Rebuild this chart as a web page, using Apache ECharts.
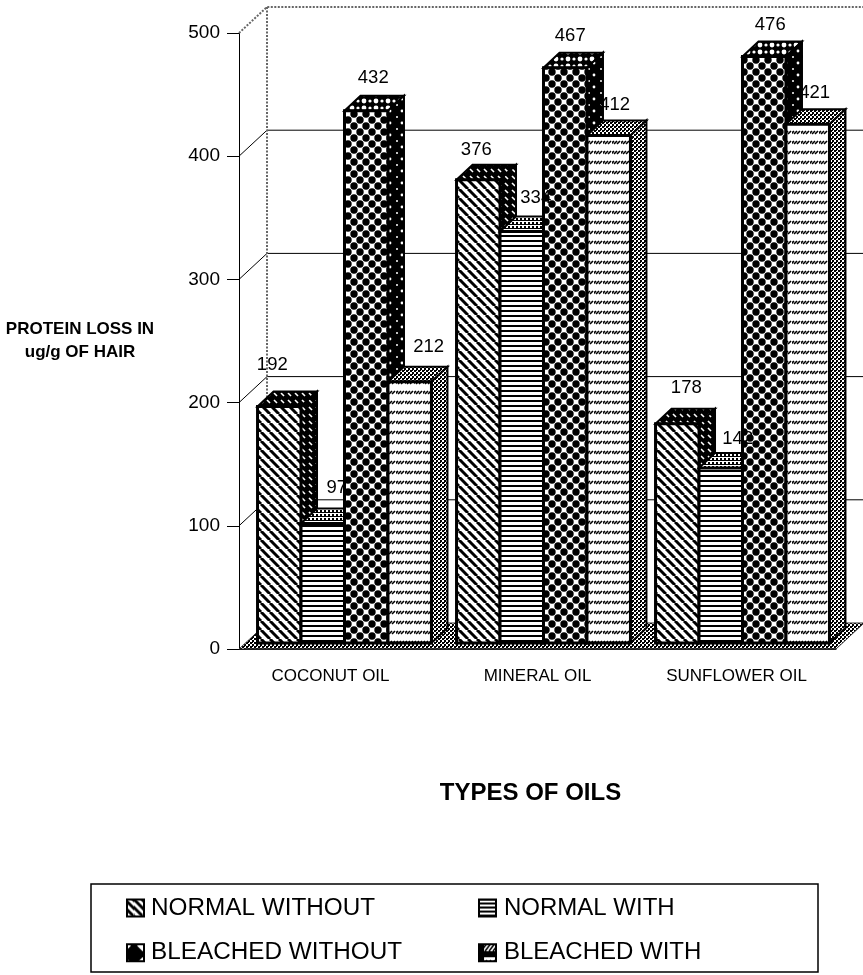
<!DOCTYPE html>
<html><head><meta charset="utf-8">
<style>html,body{margin:0;padding:0;background:#fff}#c{width:863px;height:975px}</style>
<script src="https://cdn.jsdelivr.net/npm/echarts@6/dist/echarts.min.js"></script>
</head><body><div id="c"></div>
<script>
const categories = ['COCONUT OIL','MINERAL OIL','SUNFLOWER OIL'];
const normalWithout = [192,376,178];
const normalWith = [97,334,142];
const bleachedWithout = [432,467,476];
const bleachedWith = [212,412,421];
const seriesNames = ['NORMAL WITHOUT','NORMAL WITH','BLEACHED WITHOUT','BLEACHED WITH'];
const yTicks = [0,100,200,300,400,500];

// hand-placed label nudges of the reference (px from bar centre / bar top)
const labelNudgeX = [[-7,-2,9],[14,14,17],[7,5,6],[19,6,7]];
const labelNudgeY = [[-42,-30,-36],[-36,-34,-29],[-33,-32,-32],[-35,-31,-31]];

function tile(w,h,draw,extra){const c=document.createElement('canvas');c.width=w;c.height=h;const g=c.getContext('2d');g.fillStyle='#fff';g.fillRect(0,0,w,h);g.fillStyle='#000';g.strokeStyle='#000';draw(g);return Object.assign({image:c,repeat:'repeat'},extra||{});}
function disc(g,x,y,r){g.beginPath();g.arc(x,y,r,0,Math.PI*2);g.fill();}
const diag=tile(9,9,g=>{g.lineWidth=3;for(let i=-9;i<=18;i+=9){g.beginPath();g.moveTo(i,0);g.lineTo(i+9,9);g.stroke();}});
const hori=tile(4,5,g=>{g.fillRect(0,0,4,2);});
const dots=tile(12,12,g=>{[[0,0],[12,0],[0,12],[12,12],[6,6]].forEach(p=>disc(g,p[0],p[1],3.7));});
const slash=tile(9,10,g=>{g.lineWidth=1.6;for(let i=0;i<3;i++){g.beginPath();g.moveTo(i*3-1,4);g.lineTo(i*3+2,1);g.stroke();}});
const greyDither=tile(4,4,g=>{g.fillRect(0,0,2,2);g.fillRect(2,2,2,2);g.fillRect(0,2,1,1);});
const darkDiag=tile(7,7,g=>{g.fillRect(0,0,7,7);g.strokeStyle='#fff';g.lineWidth=1.6;g.beginPath();g.moveTo(1,1);g.lineTo(4,4);g.stroke();});
const darkDots=tile(12,12,g=>{g.fillRect(0,0,12,12);g.fillStyle='#fff';disc(g,6,3,1.4);disc(g,1,9,1);});
const darkTop=tile(12,7,g=>{g.fillRect(0,0,12,7);g.fillStyle='#fff';disc(g,4,3,2.4);disc(g,10,3,1.6);});
const rowTop=tile(4,4,g=>{g.fillRect(0,0,4,1);g.fillRect(0,2,2,2);});
const patternsFront=[diag,hori,dots,slash];
const patternsTop=[darkDiag,rowTop,darkTop,greyDither];
const patternsSide=[darkDiag,greyDither,darkDots,greyDither];
const ICON=17;
const iconPats=[
  tile(ICON,ICON,g=>{g.lineWidth=3;for(let i=-ICON;i<=ICON;i+=8){g.beginPath();g.moveTo(i,0);g.lineTo(i+ICON,ICON);g.stroke();}},{x:126,y:900}),
  tile(ICON,ICON,g=>{for(let y=0;y<ICON;y+=4)g.fillRect(0,y,ICON,2);},{x:478,y:900}),
  tile(ICON,ICON,g=>{g.fillRect(0,0,ICON,ICON);g.fillStyle='#fff';g.beginPath();g.moveTo(8.5,3);g.lineTo(14,8.5);g.lineTo(8.5,14);g.lineTo(3,8.5);g.fill();},{x:126,y:945}),
  tile(ICON,ICON,g=>{g.fillRect(0,0,ICON,ICON);g.fillStyle='#fff';g.fillRect(3,3,11,11);g.strokeStyle='#000';g.lineWidth=1.5;for(let i=-4;i<16;i+=4){g.beginPath();g.moveTo(i,14);g.lineTo(i+6,6);g.stroke();}},{x:478,y:945})
];

const FRONT_DX=6, FRONT_DY=-6, DEPTH_DX=16, DEPTH_DY=-15, WALL_DX=28, WALL_DY=-26;
const BAR_SHARE=0.2185;

function barSeries(name,values,idx){
  return {name,type:'custom',z:3,itemStyle:{color:patternsFront[idx]},
    data:values.map((v,i)=>[i,v]),
    encode:{x:0,y:1},
    renderItem(params,api){
      const cat=api.value(0),val=api.value(1);
      const c=api.coord([cat,val]),b=api.coord([cat,0]),band=api.size([1,0])[0];
      const w=band*BAR_SHARE;
      const x0=c[0]-2*w+w*idx+FRONT_DX,x1=x0+w;
      const t=c[1]+FRONT_DY,bt=b[1]+FRONT_DY;
      const ln={stroke:'#000',lineWidth:2,lineJoin:'miter'};
      return {type:'group',children:[
        {type:'polygon',shape:{points:[[x0,t],[x0+DEPTH_DX,t+DEPTH_DY],[x1+DEPTH_DX,t+DEPTH_DY],[x1,t]]},style:{fill:patternsTop[idx],...ln}},
        {type:'polygon',shape:{points:[[x1,t],[x1+DEPTH_DX,t+DEPTH_DY],[x1+DEPTH_DX,bt+DEPTH_DY],[x1,bt]]},style:{fill:patternsSide[idx],...ln}},
        {type:'rect',shape:{x:x0,y:t,width:w,height:bt-t},style:{fill:patternsFront[idx],stroke:'#000',lineWidth:3}}
      ]};
    }};
}
const allValues=[normalWithout,normalWith,bleachedWithout,bleachedWith];
const labelData=[];
allValues.forEach((vals,s)=>vals.forEach((v,i)=>labelData.push([i,v,s])));
const labelSeries={type:'custom',z:5,silent:true,data:labelData,encode:{x:0,y:1},
  renderItem(params,api){
    const cat=api.value(0),val=api.value(1),idx=api.value(2);
    const c=api.coord([cat,val]),band=api.size([1,0])[0],w=band*BAR_SHARE;
    const cx=c[0]-2*w+w*idx+FRONT_DX+w/2,t=c[1]+FRONT_DY;
    return {type:'text',style:{text:String(val),x:cx+labelNudgeX[idx][cat],y:t+labelNudgeY[idx][cat],align:'center',verticalAlign:'middle',fill:'#000',font:'18.5px "Liberation Sans"'}};
  }};
const wallSeries={type:'custom',z:1,silent:true,data:yTicks.map(v=>[0,v]),encode:{y:1},
  renderItem(params,api){
    const v=api.value(1),grid=params.coordSys;
    const p=api.coord([0,v]),xl=grid.x,xr=grid.x+grid.width;
    const y=p[1];
    const ch=[];
    const dotted={stroke:'#666',lineWidth:2,lineDash:[2,1.5]};
    if(v===0){
      ch.push({type:'polygon',shape:{points:[[xl,y],[xr,y],[xr+WALL_DX,y+WALL_DY],[xl+WALL_DX,y+WALL_DY]]},style:{fill:greyDither,stroke:'#333',lineWidth:1}});
      ch.push({type:'line',shape:{x1:xl+6,y1:y,x2:xr,y2:y},style:{stroke:'#222',lineWidth:1.5}});
    } else if(v===yTicks[yTicks.length-1]){
      ch.push({type:'polyline',shape:{points:[[xl,y],[xl+WALL_DX,y+WALL_DY],[xr+WALL_DX,y+WALL_DY]]},style:{fill:'none',...dotted}});
      ch.push({type:'line',shape:{x1:xl+WALL_DX,y1:y+WALL_DY,x2:xl+WALL_DX,y2:api.coord([0,0])[1]+WALL_DY},style:dotted});
    } else {
      ch.push({type:'polyline',shape:{points:[[xl,y],[xl+WALL_DX,y+WALL_DY],[xr+WALL_DX,y+WALL_DY]]},style:{fill:'none',stroke:'#000',lineWidth:1}});
    }
    return {type:'group',children:ch};
  }};
const labelFont={fontFamily:'Liberation Sans',color:'#000'};
const legendBase={orient:'vertical',top:896,padding:0,itemGap:20.7,itemWidth:ICON,itemHeight:ICON,icon:'rect',
  inactiveColor:'#000',selectedMode:false};
const legendItem=i=>({name:seriesNames[i],itemStyle:{color:iconPats[i],borderColor:'#000',borderWidth:2}});
const chart=echarts.init(document.getElementById('c'),null,{renderer:'canvas'});
chart.setOption({
  animation:false,backgroundColor:'#fff',
  grid:{left:239,right:27,top:33,bottom:326},
  xAxis:{type:'category',data:categories,
    axisLine:{lineStyle:{color:'#000',width:1}},axisTick:{length:12,lineStyle:{color:'#000'}},
    axisLabel:{...labelFont,fontSize:17,margin:19,
      formatter:(v,i)=>i===0?'{a|'+v+'}':v,
      rich:{a:{...labelFont,fontSize:17,padding:[0,16,0,0]}}},
    name:'TYPES OF OILS',nameLocation:'middle',nameGap:132,
    nameTextStyle:{...labelFont,fontSize:24,fontWeight:'bold',padding:[0,14,0,0]}},
  yAxis:{type:'value',min:0,max:500,interval:100,
    axisLine:{show:true,lineStyle:{color:'#000',width:1}},axisTick:{show:true,length:12,lineStyle:{color:'#000'}},
    axisLabel:{...labelFont,fontSize:19,margin:19},splitLine:{show:false},
    name:'PROTEIN LOSS IN\nug/g OF HAIR',nameLocation:'middle',nameRotate:0,nameGap:159,
    nameTextStyle:{...labelFont,fontSize:17,fontWeight:'bold',lineHeight:23,align:'center',padding:[0,0,8,0]}},
  legend:[
    {...legendBase,left:126,textStyle:{...labelFont,fontSize:24.3,padding:[0,0,0,2]},data:[legendItem(0),legendItem(2)]},
    {...legendBase,left:478,textStyle:{...labelFont,fontSize:24,padding:[0,0,0,3]},data:[legendItem(1),legendItem(3)]}
  ],
  graphic:[{type:'rect',z:0,shape:{x:91,y:884,width:727,height:88},style:{fill:'none',stroke:'#000',lineWidth:1.5}}],
  series:[wallSeries,
    barSeries(seriesNames[0],normalWithout,0),
    barSeries(seriesNames[1],normalWith,1),
    barSeries(seriesNames[2],bleachedWithout,2),
    barSeries(seriesNames[3],bleachedWith,3),
    labelSeries]
});
</script></body></html>
